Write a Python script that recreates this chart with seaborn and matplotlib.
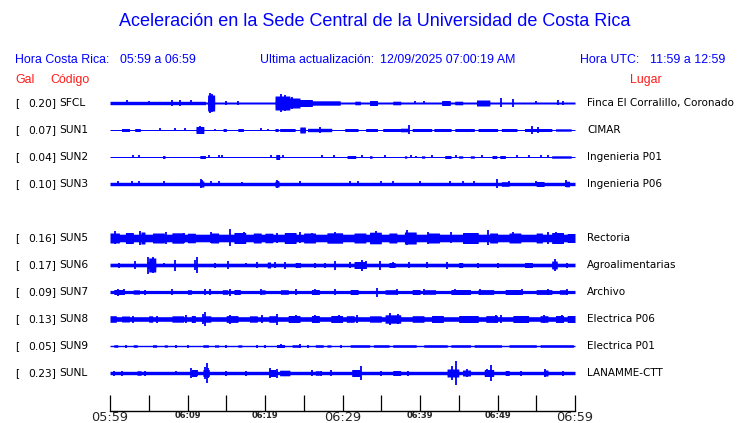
import numpy as np
import matplotlib
matplotlib.use("Agg")
import matplotlib.pyplot as plt
import matplotlib.transforms as mtransforms
import seaborn as sns

# ------------------------------------------------------------------
# Station metadata
# ------------------------------------------------------------------
codes = ["SFCL", "SUN1", "SUN2", "SUN3", "SUN5", "SUN6", "SUN7", "SUN8", "SUN9", "SUNL"]
gal = [0.20, 0.07, 0.04, 0.10, 0.16, 0.17, 0.09, 0.13, 0.05, 0.23]
places = ["Finca El Corralillo, Coronado", "CIMAR", "Ingenieria P01", "Ingenieria P06",
          "Rectoria", "Agroalimentarias", "Archivo", "Electrica P06", "Electrica P01",
          "LANAMME-CTT"]
rows = [0, 1, 2, 3, 5, 6, 7, 8, 9, 10]          # SUN4 slot left empty

# background half-amplitude of each trace (px of a 27 px row)
base_amp = [1.0, 0.5, 0.5, 1.7, 3.8, 1.8, 1.6, 2.3, 0.7, 1.7]

# bursts: (start min, end min, half-amplitude) ; spikes: (min, half-amplitude)
sfcl_bursts = [(0, 12.3, 1.7), (12.6, 13.5, 8), (21.3, 23.2, 7), (23.2, 24.5, 5),
               (24.5, 26.1, 3.5), (26.1, 29.7, 2.2), (31.6, 32.3, 1.8), (33.5, 34.5, 2.5),
               (36.5, 37.5, 1.8), (42.8, 43.9, 2.5), (44.5, 45.5, 1.8), (47.3, 49.0, 3)]
sfcl_spikes = [(2.2, 2.5), (5.0, 2), (8.0, 3), (9.0, 3), (10.5, 2.5), (12.9, 10), (13.2, 9),
               (15.0, 2), (16.5, 2), (22.0, 9), (22.6, 8), (23.5, 6), (39.3, 1.5),
               (40.5, 1.5), (50.5, 4.5), (52.0, 4), (55.0, 1.5), (57.8, 2.5), (58.5, 2)]

sun1_bursts = [(1.5, 2.5, 1.5), (3.2, 3.9, 1.5), (11.1, 12.1, 3.5), (14.6, 15.0, 1.5),
               (16.5, 17.2, 1.5), (21.3, 21.7, 1.5), (21.9, 23.9, 1.5), (24.5, 25.2, 3),
               (25.5, 28.6, 1.7), (30.3, 32.0, 1.5), (33.0, 34.5, 1.5), (35.2, 37.5, 1.5),
               (37.5, 38.5, 1.8), (39.0, 41.5, 1.5), (41.8, 44.0, 1.5), (44.5, 47.0, 1.5),
               (47.5, 50.0, 1.5), (50.5, 52.5, 1.5), (53.5, 57.0, 1.5), (57.5, 59.5, 1.2)]
sun1_spikes = [(6.5, 1.5), (8.4, 1.5), (9.7, 1.5), (11.6, 4), (12.0, 3), (13.5, 1.2),
               (19.5, 1.5), (20.4, 1.2), (27.1, 3), (38.6, 4.5), (54.5, 4), (55.2, 3)]

sun2_bursts = [(6.8, 7.1, 1.5), (11.6, 12.3, 1.5), (21.4, 21.9, 2.5), (30.6, 31.7, 1.5),
               (33.5, 33.8, 1.3), (38.0, 38.3, 1.2), (40.2, 40.6, 1.2), (43.2, 44.0, 1.5),
               (45.0, 45.5, 1.2), (46.5, 47.0, 1.2), (49.3, 49.9, 1.5), (50.3, 51.0, 1.5),
               (57.0, 59.5, 1.2)]
sun2_spikes = [(3.0, 1.5), (3.7, 1.5), (12.8, 1.5), (14.0, 1.5), (14.5, 1.5), (20.8, 1.5),
               (22.3, 1.5), (27.3, 1.5), (28.9, 1.5), (32.5, 1.5), (35.5, 1.5), (38.9, 1.5),
               (39.5, 1.2), (41.5, 1.5), (44.6, 1.5), (48.0, 1.5), (52.5, 1.5), (54.0, 1.5),
               (55.6, 1.5), (56.5, 1.5)]

sun3_bursts = [(11.6, 12.1, 3), (21.3, 21.8, 3), (50.5, 51.5, 2.3), (55.0, 56.0, 2.5),
               (58.8, 59.3, 2.8)]
sun3_spikes = [(1.0, 2.5), (2.9, 2.5), (3.7, 2.5), (7.0, 2.5), (11.7, 4.5), (11.9, 3.5),
               (13.0, 2.5), (14.0, 2.5), (17.0, 2.0), (21.5, 4), (21.7, 3), (24.5, 2.5),
               (31.0, 2.5), (32.0, 2.5), (35.0, 2.5), (36.5, 2.5), (40.0, 2.5), (43.9, 2.5),
               (45.5, 2.5), (47.0, 2.5), (49.9, 4.5), (51.5, 2.5), (55.0, 2.5), (58.9, 3.5)]

sun5_bursts = [(0, 1.2, 5), (2.0, 3.0, 5.5), (4.0, 4.5, 6), (5.5, 7.0, 5), (8.0, 9.5, 5.2),
               (10.0, 11.0, 4.8), (13.0, 14.0, 5), (16.0, 17.5, 5.5), (18.5, 19.5, 5),
               (20.0, 21.0, 4.8), (22.5, 24.0, 5.5), (25.0, 26.5, 5), (28.0, 30.0, 5.2),
               (31.5, 33.0, 5), (33.5, 35.0, 5.8), (36.0, 37.0, 5), (38.0, 39.5, 6),
               (41.0, 42.5, 5), (45.5, 47.5, 5.5), (49.0, 50.0, 5), (51.5, 53.0, 5),
               (55.0, 55.8, 5), (57.0, 58.5, 5.5), (59.0, 60, 4.5)]
sun5_spikes = [(0.7, 6.5), (3.9, 7), (7.2, 6), (9.5, 5), (13.0, 5.5), (15.5, 8.5), (17.3, 6),
               (21.5, 5), (24.5, 5.5), (26.0, 5), (29.0, 5.5), (34.3, 6.5), (38.3, 7.5),
               (41.0, 6), (44.0, 5.5), (48.8, 7.5), (52.0, 5.5), (56.5, 6), (57.5, 5.5)]

sun6_bursts = [(4.8, 5.3, 3.5), (5.0, 5.9, 7), (20.3, 20.7, 3), (23.9, 24.3, 2.5),
               (31.5, 33.0, 3.5), (36.0, 36.8, 2.5), (45.0, 45.5, 2.5), (53.5, 54.3, 2.5),
               (57.0, 57.7, 4)]
sun6_spikes = [(1.2, 2.5), (3.2, 4), (4.9, 8.5), (5.5, 8), (7.0, 2.2), (8.4, 5.5), (11.0, 5),
               (11.2, 8), (13.5, 2.5), (15.2, 4), (17.5, 2.2), (19.0, 2.8), (21.3, 3),
               (22.6, 3.5), (24.5, 2.5), (26.5, 2.5), (27.8, 2.5), (29.0, 4.5), (31.0, 3),
               (32.5, 5.5), (33.0, 4), (34.8, 4.5), (36.5, 3), (38.6, 3), (40.9, 3),
               (43.5, 3.5), (47.5, 2.5), (50.0, 2.5), (54.5, 2.5), (57.4, 6), (59.0, 2.5)]

sun7_bursts = [(0.5, 1.8, 2.5), (3.0, 3.8, 2.2), (10.0, 10.5, 2.3), (14.5, 15.2, 2.3),
               (16.0, 16.8, 2.5), (19.5, 20.0, 2.2), (22.0, 23.0, 2.3), (26.0, 27.0, 2.5),
               (31.0, 32.0, 2.5), (35.5, 37.0, 2.3), (39.0, 40.0, 2.5), (40.5, 42.0, 2.3),
               (44.0, 46.5, 2.5), (47.5, 49.5, 2.4), (51.0, 53.0, 2.5), (55.0, 57.0, 2.4),
               (58.0, 59.0, 2.3)]
sun7_spikes = [(1.0, 3.5), (1.8, 3), (4.5, 2.5), (8.0, 2.8), (12.2, 3), (12.9, 3.2),
               (15.5, 3.5), (19.5, 3), (24.0, 3), (26.5, 3), (29.0, 3), (34.4, 4.5),
               (37.0, 3), (40.5, 3), (44.5, 3), (47.8, 3.2), (53.2, 3), (56.5, 3), (59.0, 3)]

sun8_bursts = [(0, 0.8, 3.3), (1.5, 2.5, 3.0), (5.0, 5.5, 3.2), (8.0, 9.5, 3.2),
               (10.5, 11.0, 3.5), (12.0, 13.0, 3.2), (15.0, 16.5, 3.4), (18.0, 19.0, 3.2),
               (20.5, 21.5, 3.3), (23.0, 24.5, 3.5), (26.0, 27.0, 3.5), (28.5, 30.0, 3.5),
               (30.5, 31.5, 3.3), (33.5, 35.0, 3.2), (35.5, 37.5, 4.2), (39.0, 40.5, 3.3),
               (41.5, 43.0, 3.5), (45.0, 47.5, 3.5), (48.5, 50.0, 3.4), (52.0, 54.0, 3.5),
               (55.5, 56.5, 3.3), (57.5, 58.5, 3.5), (59.0, 60, 3.5)]
sun8_spikes = [(3.0, 3.5), (6.0, 3.5), (9.8, 3.7), (12.0, 5), (12.3, 7), (15.5, 4.5),
               (19.6, 4), (21.5, 5.5), (24.0, 4), (26.5, 4), (29.5, 4), (31.9, 4), (36.1, 6),
               (37.2, 5), (49.8, 4.2), (50.5, 4), (56.0, 3.8), (58.3, 4)]

sun9_bursts = [(0.5, 1.0, 1.3), (3.0, 3.5, 1.3), (5.5, 6.0, 1.3), (7.0, 7.4, 1.2),
               (12.0, 12.7, 1.3), (13.5, 14.0, 1.2), (16.5, 17.0, 1.2), (21.5, 22.5, 1.5),
               (23.5, 24.5, 1.3), (26.5, 27.5, 1.3), (28.0, 28.5, 1.2), (31.0, 33.5, 1.3),
               (34.0, 36.0, 1.3), (36.5, 39.5, 1.3), (40.5, 43.5, 1.3), (44.0, 46.5, 1.3),
               (47.0, 50.5, 1.3), (51.5, 55.0, 1.3), (55.5, 59.8, 1.3)]
sun9_spikes = [(2.0, 1.5), (8.5, 1.5), (10.0, 1.5), (15.0, 1.5), (19.0, 1.5), (20.0, 1.5),
               (22.0, 2), (24.5, 1.8), (25.5, 1.5), (29.8, 1.5)]

sunl_bursts = [(3.5, 4.0, 2.3), (10.5, 11.2, 3.5), (12.0, 12.8, 3.5), (20.5, 21.4, 3.5),
               (21.9, 23.2, 2.8), (26.5, 27.0, 2.3), (31.2, 32.3, 3.5), (36.5, 37.5, 2.5),
               (43.5, 45.0, 4), (45.5, 46.5, 3), (48.3, 49.5, 3.5), (51.0, 51.5, 2.5),
               (56.0, 56.5, 3)]
sunl_spikes = [(0.5, 2.5), (1.5, 2.5), (4.5, 2.5), (8.5, 2.2), (10.5, 5), (11.2, 3),
               (12.3, 6), (12.5, 10), (12.7, 5), (15.0, 2.5), (17.5, 2.5), (20.6, 5),
               (21.5, 4.5), (23.0, 2.5), (26.0, 3), (27.2, 2.5), (28.5, 3), (32.4, 7),
               (35.0, 2.5), (38.5, 2.5), (44.1, 7), (44.6, 12), (46.1, 4), (48.6, 4),
               (49.1, 8), (53.0, 2.5), (56.1, 4), (58.5, 2.5)]

all_bursts = [sfcl_bursts, sun1_bursts, sun2_bursts, sun3_bursts, sun5_bursts,
              sun6_bursts, sun7_bursts, sun8_bursts, sun9_bursts, sunl_bursts]
all_spikes = [sfcl_spikes, sun1_spikes, sun2_spikes, sun3_spikes, sun5_spikes,
              sun6_spikes, sun7_spikes, sun8_spikes, sun9_spikes, sunl_spikes]

major_ticks = [0, 10, 20, 30, 40, 50, 60]
major_labels = ["05:59", "06:09", "06:19", "06:29", "06:39", "06:49", "06:59"]
big_labels = {"05:59", "06:29", "06:59"}

# ------------------------------------------------------------------
# Figure
# ------------------------------------------------------------------
sns.set_theme(style="white")
plt.rcParams["font.family"] = ["Liberation Sans", "DejaVu Sans"]

BLUE = "#0000ff"
RED = "#ff1a1a"
ROW = 27.0

W, H = 740, 423
fig = plt.figure(figsize=(W / 100, H / 100), dpi=100)
fig.patch.set_facecolor("white")
ax = fig.add_axes([110 / W, 12 / H, 465 / W, 323 / H])
ax.set_facecolor("white")

t = np.linspace(0, 60, 3001)
for row, base, bursts, spikes in zip(rows, base_amp, all_bursts, all_spikes):
    off = row * ROW
    env = np.full_like(t, base)
    for s, e, a in bursts:
        mask = (t >= s) & (t <= e)
        env[mask] = np.maximum(env[mask], a)
    ax.fill_between(t, off - env, off + env, color=BLUE, lw=0)
    st = np.array([p[0] for p in spikes])
    sa = np.array([p[1] for p in spikes])
    ax.vlines(st, off - sa, off + sa, color=BLUE, lw=1.3)

ax.set_xlim(0, 60)
ax.set_ylim(ROW * 10 + 38, -15)
ax.set_yticks([])
sns.despine(ax=ax, left=True, top=True, right=True)
ax.spines["bottom"].set_color("black")
ax.spines["bottom"].set_linewidth(1.0)
ax.grid(False)

ax.set_xticks(major_ticks)
ax.set_xticks(np.arange(5, 60, 10), minor=True)
ax.set_xticklabels(major_labels)
ax.tick_params(axis="x", which="both", direction="in", length=11.5, width=0.9,
               color="black", pad=0, bottom=True)
for lab in ax.get_xticklabels():
    lab.set_family("DejaVu Sans")
    if lab.get_text() in big_labels:
        lab.set_fontsize(9.3)
    else:
        lab.set_fontsize(6)
        lab.set_fontweight("bold")

# ------------------------------------------------------------------
# Texts
# ------------------------------------------------------------------
def fx(px):
    return px / W

def fy(py):
    return 1 - py / H

fig.text(fx(375), fy(21), "Aceleración en la Sede Central de la Universidad de Costa Rica",
         color=BLUE, fontsize=13, ha="center", va="center")

hdr = dict(color=BLUE, fontsize=8.9, va="center")
fig.text(fx(15), fy(60), "Hora Costa Rica:", **hdr)
fig.text(fx(120), fy(60), "05:59 a 06:59", **hdr)
fig.text(fx(260), fy(60), "Ultima actualización:", **hdr)
fig.text(fx(380), fy(60), "12/09/2025 07:00:19 AM", **hdr)
fig.text(fx(580), fy(60), "Hora UTC:", **hdr)
fig.text(fx(650), fy(60), "11:59 a 12:59", **hdr)

red = dict(color=RED, fontsize=8.9, va="center")
fig.text(fx(15), fy(80), "Gal", **red)
fig.text(fx(50), fy(80), "Código", **red)
fig.text(fx(630), fy(80), "Lugar", **red)

trans = mtransforms.blended_transform_factory(fig.transFigure, ax.transData)
lbl = dict(transform=trans, fontsize=7.7, va="center", color="black",
           family="DejaVu Sans", clip_on=False)
for row, code, g, place in zip(rows, codes, gal, places):
    y = row * ROW
    ax.text(fx(15), y, "[", **lbl)
    ax.text(fx(56), y, f"{g:.2f}]", ha="right", **lbl)
    ax.text(fx(59), y, code, **lbl)
    ax.text(fx(587), y, place, fontsize=7.5, **{k: v for k, v in lbl.items() if k != "fontsize"})

fig.savefig("out.png", dpi=100)
